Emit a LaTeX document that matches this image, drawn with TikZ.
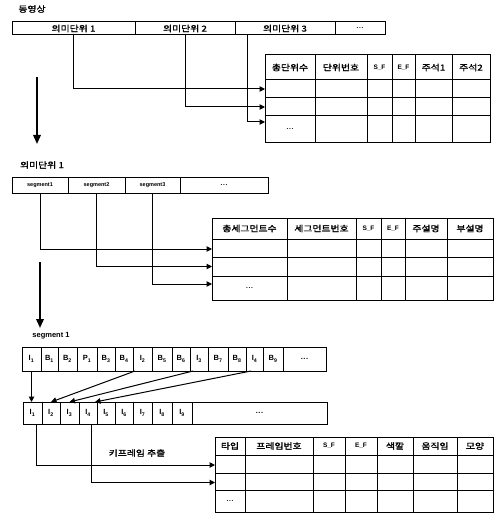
\documentclass[tikz,border=0pt]{standalone}
\usepackage{fontspec}
\setmainfont{Liberation Sans}
\newfontfamily\kr{Noto Sans CJK KR}[FakeBold=1.5,FakeStretch=1.2]
\usetikzlibrary{arrows.meta}
\newcommand\cellbox[6]{\node[cell, minimum width={#4-#2}, minimum height={#5-#3}] (#1) at ({(#2+#4)/2},{(#3+#5)/2}) {#6};}
\newcommand\ddd{.\kern0.6pt.\kern0.6pt.}
\newcommand\lsf{\normalfont\bfseries\fontsize{6.5}{7}\selectfont}
\begin{document}
\begin{tikzpicture}[x=1pt,y=-1pt,
  cell/.style={draw, line width=1pt, inner sep=0pt, outer sep=0pt, font=\kr\fontsize{8.2}{9}\selectfont},
  lat/.style={font=\bfseries\fontsize{6.5}{7}\selectfont},
  conn/.style={line width=1pt, -{Triangle[length=5.5pt,width=5.5pt]}},
  down/.style={line width=1.8pt, -{Triangle[length=9pt,width=7.5pt]}},
  lbl/.style={font=\kr\fontsize{8.2}{9}\selectfont, inner sep=0pt}]
\useasboundingbox (0,0) rectangle (500,513);
% ---------- level 1 ----------
\node[lbl] (title1) at (32,9) {동영상};
\cellbox{b1-1}{12}{22}{135}{35}{의미단위 1}
\cellbox{b1-2}{135}{22}{235}{35}{의미단위 2}
\cellbox{b1-3}{235}{22}{335}{35}{의미단위 3}
\cellbox{b1-4}{335}{22}{385}{35}{\lsf\ddd}
% table 1
\foreach \xa/\xb/\t [count=\i] in {265/315/총단위수,315/367/단위번호,367/392/{\lsf S\_F},392/415/{\lsf E\_F},415/452/주석1,452/490/주석2}
  {\cellbox{t1-0-\i}{\xa}{55}{\xb}{80}{\t}}
\foreach \ya/\yb [count=\j] in {80/98,98/116,116/143}
  \foreach \xa/\xb [count=\i] in {265/315,315/367,367/392,392/415,415/452,452/490}
    {\cellbox{t1-\j-\i}{\xa}{\ya}{\xb}{\yb}{}}
\node[lat] (t1dots) at (t1-3-1.center) {\ddd};
\draw[conn] (b1-1.south) |- (t1-1-1.west);
\draw[conn] (b1-2.south) |- (t1-2-1.west);
\draw[conn] ([xshift=12pt]b1-3.south west) |- ([yshift=-6pt]t1-3-1.north west);
\coordinate (d1a) at (37,77);
\coordinate (d1b) at (37,144);
\draw[down] (d1a) -- (d1b);
% ---------- level 2 ----------
\node[lbl] (title2) at (42,165) {의미단위 1};
\cellbox{b2-1}{12}{177}{68}{193}{\normalfont\bfseries\fontsize{5.5}{6}\selectfont segment1}
\cellbox{b2-2}{68}{177}{125}{193}{\normalfont\bfseries\fontsize{5.5}{6}\selectfont segment2}
\cellbox{b2-3}{125}{177}{180}{193}{\normalfont\bfseries\fontsize{5.5}{6}\selectfont segment3}
\cellbox{b2-4}{180}{177}{268}{193}{\lsf\ddd}
% table 2
\foreach \xa/\xb/\t [count=\i] in {212/287/총세그먼트수,287/356/세그먼트번호,356/381/{\lsf S\_F},381/405/{\lsf E\_F},405/447/주설명,447/493/부설명}
  {\cellbox{t2-0-\i}{\xa}{218}{\xb}{239}{\t}}
\foreach \ya/\yb [count=\j] in {239/257,257/276,276/300}
  \foreach \xa/\xb [count=\i] in {212/287,287/356,356/381,381/405,405/447,447/493}
    {\cellbox{t2-\j-\i}{\xa}{\ya}{\xb}{\yb}{}}
\node[lat] (t2dots) at (t2-3-1.center) {\ddd};
\draw[conn] (b2-1.south) |- ([yshift=-1pt]t2-1-1.west);
\draw[conn] (b2-2.south) |- (t2-2-1.west);
\draw[conn] (b2-3.south) |- ([yshift=-8pt]t2-3-1.north west);
\coordinate (d2a) at (40,262);
\coordinate (d2b) at (40,328);
\draw[down] (d2a) -- (d2b);
% ---------- level 3 ----------
\node[lbl,font=\bfseries\fontsize{7.5}{8}\selectfont] (title3) at (51,336) {segment 1};
\foreach \xa/\xb/\t [count=\i] in {22/41/I\textsubscript{1},41/58/B\textsubscript{1},58/77/B\textsubscript{2},77/97/P\textsubscript{1},97/115/B\textsubscript{3},115/133/B\textsubscript{4},133/152/I\textsubscript{2},152/172/B\textsubscript{5},172/190/B\textsubscript{6},190/208/I\textsubscript{3},208/228/B\textsubscript{7},228/246/B\textsubscript{8},246/263/I\textsubscript{4},263/283/B\textsubscript{9},283/326/\ddd}
  {\cellbox{f-\i}{\xa}{347}{\xb}{371}{\normalfont\bfseries\fontsize{7.5}{8}\selectfont\t}}
\foreach \xa/\xb/\t [count=\i] in {23/42/I\textsubscript{1},42/60/I\textsubscript{2},60/79/I\textsubscript{3},79/97/I\textsubscript{4},97/115/I\textsubscript{5},115/133/I\textsubscript{6},133/152/I\textsubscript{7},152/172/I\textsubscript{8},172/192/I\textsubscript{9},192/327/\ddd}
  {\cellbox{g-\i}{\xa}{402}{\xb}{424}{\normalfont\bfseries\fontsize{7.5}{8}\selectfont\t}}
\draw[conn] (f-1.south) -- (f-1.south |- g-1.north);
\draw[conn] ([xshift=2pt]f-7.south west) -- (g-2.north);
\draw[conn] ([xshift=3pt]f-10.south west) -- (g-3.north);
\draw[conn] ([xshift=5pt]f-13.south west) -- ([xshift=-2pt]g-4.north east);
% table 3
\foreach \xa/\xb/\t [count=\i] in {215/245/타입,245/313/프레임번호,313/345/{\lsf S\_F},345/377/{\lsf E\_F},377/413/색깔,413/457/움직임,457/493/모양}
  {\cellbox{t3-0-\i}{\xa}{437}{\xb}{455}{\t}}
\foreach \ya/\yb [count=\j] in {455/473,473/490,490/512}
  \foreach \xa/\xb [count=\i] in {215/245,245/313,313/345,345/377,377/413,413/457,457/493}
    {\cellbox{t3-\j-\i}{\xa}{\ya}{\xb}{\yb}{}}
\node[lat] (t3dots) at (t3-3-1.center) {\ddd};
\draw[conn] ([xshift=4pt]g-1.south) |- ([yshift=-1pt]t3-1-1.west);
\draw[conn] ([xshift=3pt]g-4.south) |- ([yshift=-1pt]t3-2-1.west);
\node[lbl] (kf) at (137,453) {키프레임 추출};
\end{tikzpicture}
\end{document}
